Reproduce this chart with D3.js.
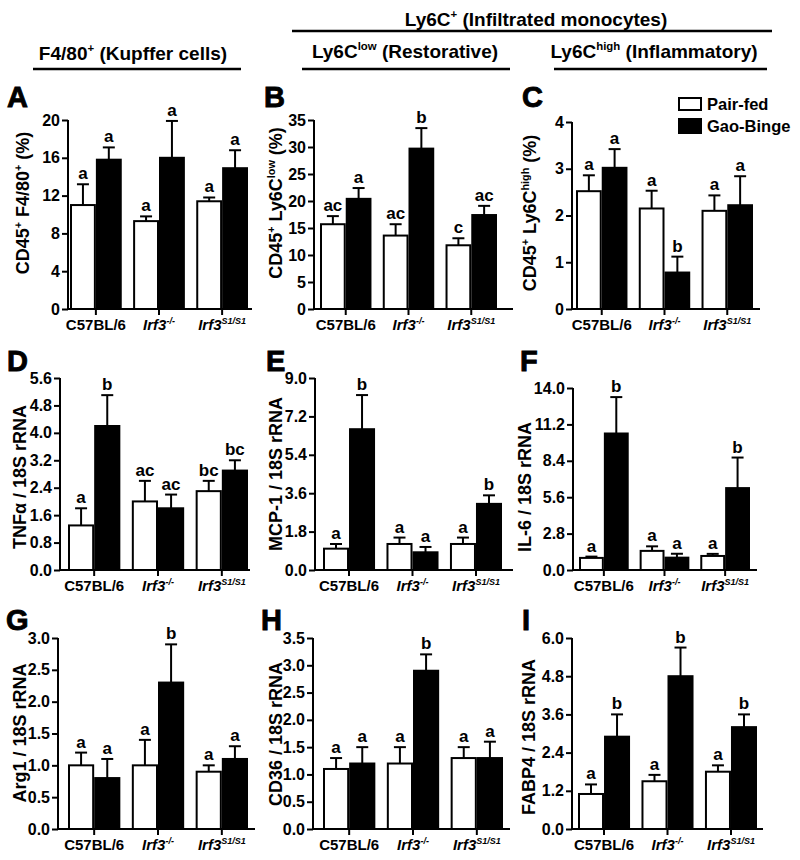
<!DOCTYPE html>
<html><head><meta charset="utf-8">
<script src="https://cdn.jsdelivr.net/npm/d3@7"></script>
<style>
body{margin:0;background:#fff}
text{font-family:"Liberation Sans",Arial,Helvetica,sans-serif;font-weight:bold;fill:#000}
</style>
</head><body>
<svg id="chart" width="800" height="860"></svg>
<script>
// ---------------- data ----------------
const genotypes = ["C57BL/6", "Irf3-/-", "Irf3S1/S1"];
const seriesNames = ["Pair-fed", "Gao-Binge"];

// A: CD45+ F4/80+ (%)
const aPair = [11.0, 9.3, 11.4], aPairErr = [2.2, 0.5, 0.4];
const aGao = [15.8, 16.0, 14.9], aGaoErr = [1.3, 3.9, 1.9];
const aPairSig = ["a", "a", "a"], aGaoSig = ["a", "a", "a"];
const aTicks = [0, 4, 8, 12, 16, 20];
// B: CD45+ Ly6Clow (%)
const bPair = [15.7, 13.6, 11.8], bPairErr = [1.5, 2.1, 1.3];
const bGao = [20.4, 29.7, 17.4], bGaoErr = [2.0, 3.8, 1.7];
const bPairSig = ["ac", "ac", "c"], bGaoSig = ["a", "b", "ac"];
const bTicks = [0, 5, 10, 15, 20, 25, 30, 35];
// C: CD45+ Ly6Chigh (%)
const cPair = [2.52, 2.15, 2.10], cPairErr = [0.34, 0.38, 0.33];
const cGao = [3.02, 0.78, 2.22], cGaoErr = [0.40, 0.34, 0.62];
const cPairSig = ["a", "a", "a"], cGaoSig = ["a", "b", "a"];
const cTicks = [0, 1, 2, 3, 4];
// D: TNFa / 18S rRNA
const dPair = [1.3, 2.0, 2.3], dPairErr = [0.5, 0.6, 0.3];
const dGao = [4.2, 1.8, 2.9], dGaoErr = [0.9, 0.4, 0.3];
const dPairSig = ["a", "ac", "bc"], dGaoSig = ["b", "ac", "bc"];
const dTicks = [0, 0.8, 1.6, 2.4, 3.2, 4.0, 4.8, 5.6];
// E: MCP-1 / 18S rRNA
const ePair = [1.0, 1.22, 1.22], ePairErr = [0.22, 0.3, 0.3];
const eGao = [6.6, 0.83, 3.1], eGaoErr = [1.6, 0.25, 0.4];
const ePairSig = ["a", "a", "a"], eGaoSig = ["b", "a", "b"];
const eTicks = [0, 1.8, 3.6, 5.4, 7.2, 9.0];
// F: IL-6 / 18S rRNA
const fPair = [0.93, 1.47, 1.08], fPairErr = [0.1, 0.35, 0.16];
const fGao = [10.5, 0.95, 6.3], fGaoErr = [2.8, 0.3, 2.35];
const fPairSig = ["a", "a", "a"], fGaoSig = ["b", "a", "b"];
const fTicks = [0, 2.8, 5.6, 8.4, 11.2, 14.0];
// G: Arg1 / 18S rRNA
const gPair = [1.0, 1.0, 0.9], gPairErr = [0.2, 0.4, 0.1];
const gGao = [0.8, 2.3, 1.1], gGaoErr = [0.3, 0.6, 0.2];
const gPairSig = ["a", "a", "a"], gGaoSig = ["a", "b", "a"];
const gTicks = [0, 0.5, 1.0, 1.5, 2.0, 2.5, 3.0];
// H: CD36 / 18S rRNA
const hPair = [1.1, 1.2, 1.3], hPairErr = [0.2, 0.3, 0.2];
const hGao = [1.2, 2.9, 1.3], hGaoErr = [0.3, 0.3, 0.3];
const hPairSig = ["a", "a", "a"], hGaoSig = ["a", "b", "a"];
const hTicks = [0, 0.5, 1.0, 1.5, 2.0, 2.5, 3.0, 3.5];
// I: FABP4 / 18S rRNA
const iPair = [1.1, 1.5, 1.8], iPairErr = [0.3, 0.2, 0.2];
const iGao = [2.9, 4.8, 3.2], iGaoErr = [0.7, 0.9, 0.4];
const iPairSig = ["a", "a", "a"], iGaoSig = ["b", "b", "b"];
const iTicks = [0, 1.2, 2.4, 3.6, 4.8, 6.0];

// text pieces: [text, style]  (n = normal, s = superscript, i = italic, is = italic superscript)
const genotypeLabels = [[["C57BL/6", "n"]], [["Irf3", "i"], ["-/-", "is"]], [["Irf3", "i"], ["S1/S1", "is"]]];
const yTitles = {
  A: [["CD45", "n"], ["+", "s"], ["  F4/80", "n"], ["+", "s"], [" (%)", "n"]],
  B: [["CD45", "n"], ["+", "s"], [" Ly6C", "n"], ["low", "s"], [" (%)", "n"]],
  C: [["CD45", "n"], ["+", "s"], [" Ly6C", "n"], ["high", "s"], [" (%)", "n"]],
  D: [["TNFα / 18S rRNA", "n"]],
  E: [["MCP-1 / 18S rRNA", "n"]],
  F: [["IL-6 / 18S rRNA", "n"]],
  G: [["Arg1 / 18S rRNA", "n"]],
  H: [["CD36 / 18S rRNA", "n"]],
  I: [["FABP4 / 18S rRNA", "n"]]
};

const panels = [
  {id: "A", pair: aPair, pairErr: aPairErr, gao: aGao, gaoErr: aGaoErr, pairSig: aPairSig, gaoSig: aGaoSig, ticks: aTicks, fmt: "d"},
  {id: "B", pair: bPair, pairErr: bPairErr, gao: bGao, gaoErr: bGaoErr, pairSig: bPairSig, gaoSig: bGaoSig, ticks: bTicks, fmt: "d"},
  {id: "C", pair: cPair, pairErr: cPairErr, gao: cGao, gaoErr: cGaoErr, pairSig: cPairSig, gaoSig: cGaoSig, ticks: cTicks, fmt: "d"},
  {id: "D", pair: dPair, pairErr: dPairErr, gao: dGao, gaoErr: dGaoErr, pairSig: dPairSig, gaoSig: dGaoSig, ticks: dTicks, fmt: ".1f"},
  {id: "E", pair: ePair, pairErr: ePairErr, gao: eGao, gaoErr: eGaoErr, pairSig: ePairSig, gaoSig: eGaoSig, ticks: eTicks, fmt: ".1f"},
  {id: "F", pair: fPair, pairErr: fPairErr, gao: fGao, gaoErr: fGaoErr, pairSig: fPairSig, gaoSig: fGaoSig, ticks: fTicks, fmt: ".1f"},
  {id: "G", pair: gPair, pairErr: gPairErr, gao: gGao, gaoErr: gGaoErr, pairSig: gPairSig, gaoSig: gGaoSig, ticks: gTicks, fmt: ".1f"},
  {id: "H", pair: hPair, pairErr: hPairErr, gao: hGao, gaoErr: hGaoErr, pairSig: hPairSig, gaoSig: hGaoSig, ticks: hTicks, fmt: ".1f"},
  {id: "I", pair: iPair, pairErr: iPairErr, gao: iGao, gaoErr: iGaoErr, pairSig: iPairSig, gaoSig: iGaoSig, ticks: iTicks, fmt: ".1f"}
];

// ---------------- layout ----------------
const layout = {
  A: {ax: 68,  x0: 70,  x1: 248, xEnd: 252, top: 120, base: 309, letter: [7, 107],   yt: [23, 203]},
  B: {ax: 314, x0: 320, x1: 497, xEnd: 513, top: 120, base: 309, letter: [264, 107], yt: [276, 203]},
  C: {ax: 572, x0: 576, x1: 753, xEnd: 760, top: 122, base: 309, letter: [522, 107], yt: [530, 213]},
  D: {ax: 60,  x0: 68,  x1: 248, xEnd: 250, top: 378, base: 570, letter: [7, 371],   yt: [20, 477]},
  E: {ax: 315, x0: 323, x1: 502, xEnd: 513, top: 378, base: 570, letter: [266, 371], yt: [276, 474]},
  F: {ax: 573, x0: 579, x1: 750, xEnd: 757, top: 388, base: 570, letter: [520, 371], yt: [525, 487]},
  G: {ax: 58,  x0: 68,  x1: 248, xEnd: 255, top: 638, base: 829, letter: [6, 630],   yt: [20, 733]},
  H: {ax: 313, x0: 323, x1: 503, xEnd: 510, top: 638, base: 829, letter: [261, 630], yt: [276, 734]},
  I: {ax: 572, x0: 578, x1: 757, xEnd: 763, top: 638, base: 829, letter: [522, 630], yt: [529, 737]}
};

const svg = d3.select("#chart");

function addPieces(textSel, pieces, fs) {
  let raised = false;
  pieces.forEach(([t, st]) => {
    const sup = st === "s" || st === "is";
    const ts = textSel.append("tspan").text(t);
    if (st === "i" || st === "is") ts.attr("font-style", "italic");
    if (sup) {
      ts.attr("font-size", fs * 0.6);
      if (!raised) { ts.attr("dy", -fs * 0.42); raised = true; }
    } else {
      ts.attr("font-size", fs);
      if (raised) { ts.attr("dy", fs * 0.42); raised = false; }
    }
  });
}

panels.forEach(p => {
  const L = layout[p.id];
  const g = svg.append("g").attr("class", "panel-" + p.id);
  const y = d3.scaleLinear().domain([0, p.ticks[p.ticks.length - 1]]).range([L.base, L.top]);
  const x = d3.scaleBand().domain(genotypes).range([L.x0, L.x1]).paddingInner(0.18).paddingOuter(0);
  const xs = d3.scaleBand().domain(seriesNames).range([0, x.bandwidth()]);

  const rows = [];
  genotypes.forEach((gn, i) => {
    rows.push({g: gn, s: "Pair-fed", v: p.pair[i], e: p.pairErr[i], sig: p.pairSig[i]});
    rows.push({g: gn, s: "Gao-Binge", v: p.gao[i], e: p.gaoErr[i], sig: p.gaoSig[i]});
  });
  const cx = d => x(d.g) + xs(d.s) + xs.bandwidth() / 2;

  // error bars
  const eb = g.append("g").attr("stroke", "#000").attr("stroke-width", 2);
  eb.selectAll("line.stem").data(rows).join("line").attr("class", "stem")
    .attr("x1", cx).attr("x2", cx).attr("y1", d => y(d.v)).attr("y2", d => y(d.v + d.e));
  eb.selectAll("line.cap").data(rows).join("line").attr("class", "cap")
    .attr("x1", d => cx(d) - 6).attr("x2", d => cx(d) + 6)
    .attr("y1", d => y(d.v + d.e)).attr("y2", d => y(d.v + d.e));

  // bars
  g.selectAll("rect.bar").data(rows).join("rect").attr("class", "bar")
    .attr("x", d => x(d.g) + xs(d.s) + 1)
    .attr("width", xs.bandwidth() - 2)
    .attr("y", d => y(d.v))
    .attr("height", d => y(0) - y(d.v))
    .attr("fill", d => d.s === "Pair-fed" ? "#fff" : "#000")
    .attr("stroke", "#000").attr("stroke-width", 2);

  // significance letters
  g.selectAll("text.sig").data(rows).join("text").attr("class", "sig")
    .attr("x", cx).attr("y", d => y(d.v + d.e) - 5)
    .attr("text-anchor", "middle").attr("font-size", 17).text(d => d.sig);

  // y axis
  const ya = g.append("g").attr("transform", `translate(${L.ax},0)`)
    .call(d3.axisLeft(y).tickValues(p.ticks).tickFormat(d3.format(p.fmt)).tickSize(6).tickSizeOuter(0).tickPadding(2));
  ya.select(".domain").attr("stroke-width", 2).attr("d", `M0,${L.base + 1}V${L.top}`);
  ya.selectAll(".tick line").attr("stroke-width", 2);
  ya.selectAll(".tick text").attr("font-size", 16).attr("font-family", null).attr("fill", "#000");

  // x axis
  g.append("line").attr("x1", L.ax).attr("x2", L.xEnd).attr("y1", L.base).attr("y2", L.base)
    .attr("stroke", "#000").attr("stroke-width", 2);
  const xa = g.append("g").attr("transform", `translate(0,${L.base})`)
    .call(d3.axisBottom(x).tickSize(6).tickSizeOuter(0).tickPadding(4));
  xa.select(".domain").remove();
  xa.selectAll(".tick line").attr("stroke-width", 2);
  xa.selectAll(".tick text").each(function(d, i) {
    const t = d3.select(this).text(null).attr("font-size", 15).attr("font-family", null)
      .attr("fill", "#000").attr("dy", null).attr("y", 21);
    addPieces(t, genotypeLabels[i], 15);
  });

  // y title
  const yt = g.append("text")
    .attr("transform", `translate(${L.yt[0]},${L.yt[1]}) rotate(-90)`)
    .attr("text-anchor", "middle").attr("dy", "0.35em").attr("font-size", 18);
  addPieces(yt, yTitles[p.id], 18);

  // panel letter
  g.append("text").attr("x", L.letter[0]).attr("y", L.letter[1])
    .attr("font-size", 29).attr("stroke", "#000").attr("stroke-width", 0.9).text(p.id);
});

// ---------------- headers ----------------
const headers = [
  {pieces: [["Ly6C", "n"], ["+", "s"], [" (Infiltrated monocytes)", "n"]], x: 536, y: 26, line: [292, 772, 31]},
  {pieces: [["F4/80", "n"], ["+", "s"], [" (Kupffer cells)", "n"]], x: 133, y: 60, line: [33, 241, 69]},
  {pieces: [["Ly6C", "n"], ["low", "s"], [" (Restorative)", "n"]], x: 405, y: 58, line: [302, 510, 69]},
  {pieces: [["Ly6C", "n"], ["high", "s"], [" (Inflammatory)", "n"]], x: 654, y: 58, line: [554, 767, 69]}
];
headers.forEach(h => {
  const t = svg.append("text").attr("x", h.x).attr("y", h.y).attr("text-anchor", "middle");
  addPieces(t, h.pieces, 19);
  svg.append("line").attr("x1", h.line[0]).attr("x2", h.line[1]).attr("y1", h.line[2]).attr("y2", h.line[2])
    .attr("stroke", "#000").attr("stroke-width", 2.5);
});

// ---------------- legend ----------------
const legend = svg.append("g").attr("transform", "translate(679,98)");
seriesNames.forEach((s, i) => {
  legend.append("rect").attr("x", 0).attr("y", i === 0 ? 0 : 21).attr("width", 22).attr("height", i === 0 ? 12 : 14)
    .attr("fill", i === 0 ? "#fff" : "#000").attr("stroke", "#000").attr("stroke-width", 2);
  legend.append("text").attr("x", 28).attr("y", i === 0 ? 12 : 34).attr("font-size", 16.5).text(s);
});
</script>
</body></html>
